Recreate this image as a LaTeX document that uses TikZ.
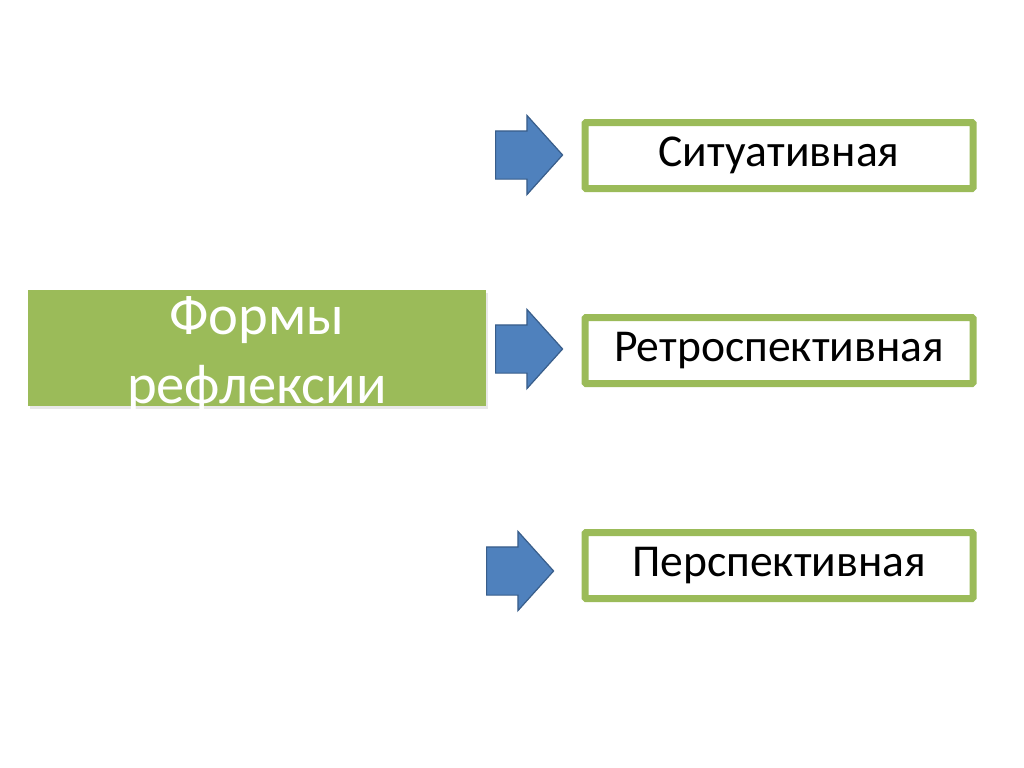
\documentclass[tikz,border=0pt]{standalone}
\usepackage{fontspec}
\setmainfont{Carlito}
\usetikzlibrary{shapes.arrows, shadows}

\definecolor{formgreen}{HTML}{9BBB59}
\definecolor{arrowblue}{HTML}{4F81BD}
\definecolor{arrowedge}{HTML}{385D8A}

\tikzset{
  kindbox/.style={draw=formgreen, line width=3.5pt, fill=white,
    rounded corners=0.5pt, minimum width=194pt, minimum height=33pt,
    inner sep=0pt, font=\fontsize{22.8}{26}\selectfont},
  blockarrow/.style={single arrow, draw=arrowedge, fill=arrowblue,
    line width=0.6pt, inner xsep=0pt, inner ysep=11.75pt,
    minimum height=33.5pt, single arrow head extend=7.75pt,
    single arrow tip angle=96, anchor=tail},
}

\begin{document}
\begin{tikzpicture}[x=0.5pt, y=-0.5pt]
  \useasboundingbox (0,0) rectangle (1024,767);
  % main box
  \node[fill=formgreen, minimum width=229pt, minimum height=58pt, inner sep=0pt,
    drop shadow={shadow xshift=1pt, shadow yshift=-1.5pt, fill=black!18}]
    (forms) at (257,348) {};
  \node[text=white, align=center, inner sep=0pt,
    font=\fontsize{28.3}{34.5}\selectfont] (formslbl) at (257,355)
    {Формы\\рефлексии};
  % kinds
  \node[kindbox] (sit) at (779,155.5) {Ситуативная};
  \node[kindbox] (retro) at (779,350.5) {Ретроспективная};
  \node[kindbox] (persp) at (779,565.5) {Перспективная};
  % arrows
  \node[blockarrow] (arrsit) at (495,155) {};
  \node[blockarrow] (arrretro) at (495,349) {};
  \node[blockarrow] (arrpersp) at (486,571) {};
\end{tikzpicture}
\end{document}
